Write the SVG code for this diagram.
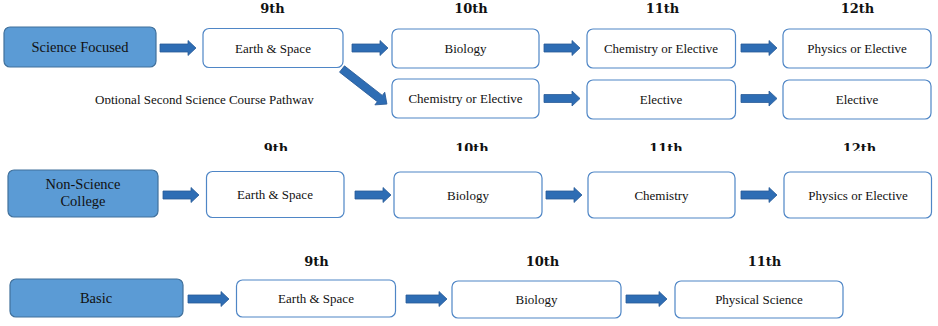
<svg xmlns="http://www.w3.org/2000/svg" width="938" height="326" viewBox="0 0 938 326">
<style>
.lead rect{fill:#5B9BD5;stroke:#41719C;stroke-width:1.2}
.box rect{fill:#ffffff;stroke:#4F86C6;stroke-width:1.2}
.lead text{font-family:"Liberation Serif",serif;font-size:14.5px;fill:#111;text-anchor:middle}
.box text{font-family:"Liberation Serif",serif;font-size:13px;fill:#111;text-anchor:middle}
.hd{font-family:"DejaVu Serif",serif;font-weight:bold;font-size:13px;fill:#111;text-anchor:middle}
.note{font-family:"Liberation Serif",serif;font-size:13px;fill:#111}
.arr{fill:#2E6DB4;stroke:#2A5C98;stroke-width:0.8}
</style>
<defs>
<path id="a36" d="M0,-4 H28 V-7.5 L36,0 L28,7.5 V4 H0 Z"/>
<path id="a41" d="M0,-4 H33 V-7.5 L41,0 L33,7.5 V4 H0 Z"/>
<path id="a57" d="M0,-4 H48 V-8 L57,0 L48,8 V4 H0 Z"/>
<clipPath id="c2"><rect x="0" y="130" width="938" height="21"/></clipPath>
<clipPath id="cn"><rect x="0" y="85" width="340" height="19"/></clipPath>
</defs>

<g id="headings">
<text class="hd" x="272.5" y="12.5">9th</text>
<text class="hd" x="471" y="12.5">10th</text>
<text class="hd" x="662.5" y="12.5">11th</text>
<text class="hd" x="857.5" y="12.5">12th</text>
<g clip-path="url(#c2)">
<text class="hd" x="276" y="153">9th</text>
<text class="hd" x="472" y="153">10th</text>
<text class="hd" x="666" y="153">11th</text>
<text class="hd" x="859.5" y="153">12th</text>
</g>
<text class="hd" x="316.5" y="266">9th</text>
<text class="hd" x="542.5" y="266">10th</text>
<text class="hd" x="764.5" y="266">11th</text>
</g>

<text class="note" x="95" y="103.5" clip-path="url(#cn)">Optional Second Science Course Pathway</text>

<g id="n-science" class="lead"><rect x="4" y="27" width="152" height="40" rx="6"/><text x="80" y="52">Science Focused</text></g>
<g id="n-r1-9" class="box"><rect x="203" y="28.5" width="140" height="39" rx="6"/><text x="273" y="52.5">Earth &amp; Space</text></g>
<g id="n-r1-10" class="box"><rect x="392" y="29" width="147" height="39" rx="6"/><text x="465.5" y="53">Biology</text></g>
<g id="n-r1-11" class="box"><rect x="587" y="29" width="148.5" height="39" rx="6"/><text x="661" y="53">Chemistry or Elective</text></g>
<g id="n-r1-12" class="box"><rect x="783" y="29" width="148" height="39" rx="6"/><text x="857" y="53">Physics or Elective</text></g>

<g id="n-r1b-10" class="box"><rect x="392" y="79" width="147" height="39" rx="6"/><text x="465.5" y="103">Chemistry or Elective</text></g>
<g id="n-r1b-11" class="box"><rect x="587" y="80" width="148.5" height="39" rx="6"/><text x="661" y="104">Elective</text></g>
<g id="n-r1b-12" class="box"><rect x="783" y="80" width="148" height="39" rx="6"/><text x="857" y="104">Elective</text></g>

<g id="n-nonsci" class="lead"><rect x="8" y="170" width="150" height="47" rx="6"/><text x="83" y="189">Non-Science</text><text x="83" y="206">College</text></g>
<g id="n-r2-9" class="box"><rect x="206.5" y="171.5" width="137.5" height="46" rx="6"/><text x="275" y="199">Earth &amp; Space</text></g>
<g id="n-r2-10" class="box"><rect x="394" y="172" width="148" height="46" rx="6"/><text x="468" y="199.5">Biology</text></g>
<g id="n-r2-11" class="box"><rect x="588" y="172" width="147" height="46" rx="6"/><text x="661.5" y="199.5">Chemistry</text></g>
<g id="n-r2-12" class="box"><rect x="784" y="172" width="147.5" height="46" rx="6"/><text x="858" y="199.5">Physics or Elective</text></g>

<g id="n-basic" class="lead"><rect x="10" y="279" width="173" height="38" rx="6"/><text x="96" y="303">Basic</text></g>
<g id="n-r3-9" class="box"><rect x="236.5" y="280" width="159" height="37" rx="6"/><text x="316" y="303">Earth &amp; Space</text></g>
<g id="n-r3-10" class="box"><rect x="452" y="281" width="169" height="37" rx="6"/><text x="536.5" y="304">Biology</text></g>
<g id="n-r3-11" class="box"><rect x="675" y="281" width="168" height="37" rx="6"/><text x="759" y="304">Physical Science</text></g>

<g id="connectors" class="arr">
<use href="#a36" transform="translate(160,48)"/>
<use href="#a36" transform="translate(352,48)"/>
<use href="#a36" transform="translate(544,48)"/>
<use href="#a36" transform="translate(741,48)"/>
<use href="#a57" transform="translate(342,69) rotate(38)"/>
<use href="#a36" transform="translate(544,98.5)"/>
<use href="#a36" transform="translate(741,98.5)"/>
<use href="#a36" transform="translate(163,195)"/>
<use href="#a36" transform="translate(355,195)"/>
<use href="#a36" transform="translate(546,195)"/>
<use href="#a36" transform="translate(741,195)"/>
<use href="#a41" transform="translate(188,299)"/>
<use href="#a41" transform="translate(406,299)"/>
<use href="#a41" transform="translate(626,299)"/>
</g>
</svg>
